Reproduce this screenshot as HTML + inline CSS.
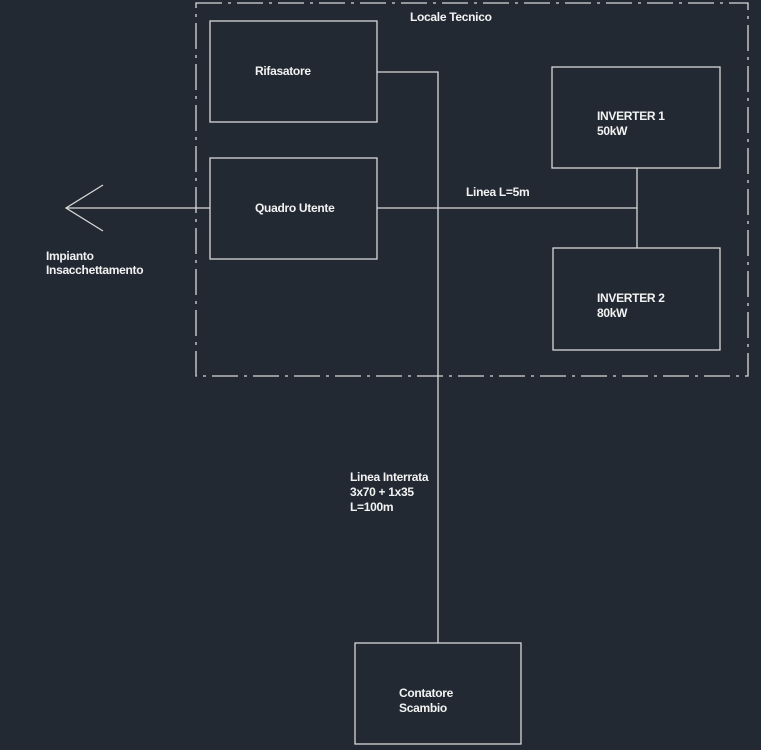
<!DOCTYPE html>
<html><head><style>
html,body{margin:0;padding:0;background:#222932;}
svg{display:block}
text{font-family:"Liberation Sans",Arial,sans-serif;font-size:12px;fill:#f2f2f2;font-weight:bold;letter-spacing:-0.3px}
</style></head><body>
<svg width="761" height="750" viewBox="0 0 761 750" xmlns="http://www.w3.org/2000/svg">
<rect width="761" height="750" fill="#222932"/>
<g fill="none" stroke="#d8d8d8" stroke-width="1.3">
<rect x="196" y="3" width="552" height="373" stroke-dasharray="26 6 3 6"/>
<rect x="210" y="21" width="167" height="101"/>
<rect x="210" y="158" width="167" height="101"/>
<rect x="552" y="67" width="168" height="101"/>
<rect x="553" y="248" width="167" height="102"/>
<rect x="355" y="643" width="166" height="101"/>
<polyline points="377,72 438,72 438,643"/>
<line x1="377" y1="208" x2="637" y2="208"/>
<line x1="637" y1="168" x2="637" y2="248"/>
<line x1="210" y1="208" x2="66" y2="208"/>
<polyline points="103,185 66,208 103,231"/>
</g>
<text x="410" y="21">Locale Tecnico</text>
<text x="255" y="75">Rifasatore</text>
<text x="255" y="212">Quadro Utente</text>
<text x="466" y="196">Linea L=5m</text>
<text x="597" y="120">INVERTER 1</text>
<text x="597" y="135">50kW</text>
<text x="597" y="302">INVERTER 2</text>
<text x="597" y="317">80kW</text>
<text x="46" y="260">Impianto</text>
<text x="46" y="274">Insacchettamento</text>
<text x="350" y="481">Linea Interrata</text>
<text x="350" y="496">3x70 + 1x35</text>
<text x="350" y="511">L=100m</text>
<text x="399" y="697">Contatore</text>
<text x="399" y="712">Scambio</text>
</svg>
</body></html>
